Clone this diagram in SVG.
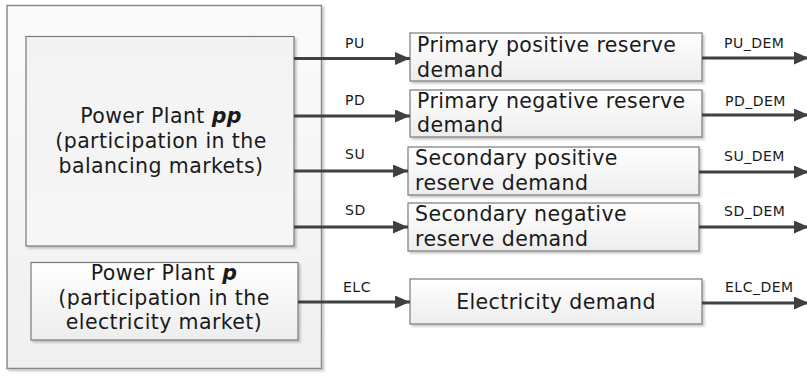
<svg xmlns="http://www.w3.org/2000/svg" width="807" height="377" viewBox="0 0 807 377">
  <defs>
    <linearGradient id="boxFill" x1="0" y1="0" x2="0" y2="1">
      <stop offset="0" stop-color="#ffffff"/>
      <stop offset="1" stop-color="#ededed"/>
    </linearGradient>
    <linearGradient id="panelFill" x1="0" y1="0" x2="0" y2="1">
      <stop offset="0" stop-color="#fbfbfb"/>
      <stop offset="1" stop-color="#f0f0f0"/>
    </linearGradient>
    <linearGradient id="ppFill" x1="0" y1="0" x2="0" y2="1">
      <stop offset="0" stop-color="#f3f3f3"/>
      <stop offset="1" stop-color="#f6f6f6"/>
    </linearGradient>
    <filter id="shadow" x="-5%" y="-5%" width="115%" height="120%">
      <feDropShadow dx="2" dy="2" stdDeviation="1" flood-color="#000000" flood-opacity="0.22"/>
    </filter>
    <marker id="arrow" viewBox="0 0 15 13" refX="15" refY="6.5" markerWidth="15" markerHeight="13" markerUnits="userSpaceOnUse" orient="auto">
      <path d="M0,0 L15,6.5 L0,13 Z" fill="#404040"/>
    </marker>
  </defs>
  <style>
    .box { fill: url(#boxFill); stroke: #7a7a7a; stroke-width: 1.2; filter: url(#shadow); }
    .panel { fill: url(#panelFill); stroke: #8a8a8a; stroke-width: 1.5; filter: url(#shadow); }
    .pp { fill: url(#ppFill); stroke: #7a7a7a; stroke-width: 1.2; filter: url(#shadow); }
    .t { font-family: "DejaVu Sans", Verdana, sans-serif; font-size: 20.5px; letter-spacing: 0.4px; fill: #1a1a1a; }
    .c { text-anchor: middle; }
    .lbl { font-family: "DejaVu Sans", Verdana, sans-serif; font-size: 14px; letter-spacing: 0.5px; fill: #1a1a1a; }
    .bi { font-weight: bold; font-style: italic; }
    .wire { stroke: #404040; stroke-width: 3; fill: none; marker-end: url(#arrow); }
  </style>

  <!-- outer plant panel -->
  <g id="plant-panel">
    <rect class="panel" x="7" y="5.5" width="314.5" height="363"/>
  </g>

  <g id="power-plant-pp">
    <rect class="pp" x="26" y="36.5" width="268" height="209.5"/>
    <text class="t c" x="161" y="123">Power Plant <tspan class="bi">pp</tspan></text>
    <text class="t c" x="161" y="148">(participation in the</text>
    <text class="t c" x="161" y="173">balancing markets)</text>
  </g>

  <g id="power-plant-p">
    <rect class="box" x="31" y="262.5" width="267" height="77.5"/>
    <text class="t c" x="164" y="280">Power Plant <tspan class="bi">p</tspan></text>
    <text class="t c" x="164" y="305">(participation in the</text>
    <text class="t c" x="164" y="329">electricity market)</text>
  </g>

  <g id="primary-positive">
    <rect class="box" x="410" y="33" width="292" height="48"/>
    <text class="t" x="417" y="52">Primary positive reserve</text>
    <text class="t" x="417" y="77">demand</text>
  </g>

  <g id="primary-negative">
    <rect class="box" x="410" y="90" width="292" height="47"/>
    <text class="t" x="417" y="108">Primary negative reserve</text>
    <text class="t" x="417" y="132">demand</text>
  </g>

  <g id="secondary-positive">
    <rect class="box" x="408" y="147" width="291" height="48"/>
    <text class="t" x="415" y="165">Secondary positive</text>
    <text class="t" x="415" y="190">reserve demand</text>
  </g>

  <g id="secondary-negative">
    <rect class="box" x="408" y="203" width="291" height="48"/>
    <text class="t" x="415" y="221">Secondary negative</text>
    <text class="t" x="415" y="246">reserve demand</text>
  </g>

  <g id="electricity-demand">
    <rect class="box" x="410" y="279" width="292" height="45"/>
    <text class="t c" x="556" y="309">Electricity demand</text>
  </g>

  <!-- flows -->
  <g id="connectors">
    <line class="wire" x1="294" y1="58.5" x2="410" y2="58.5"/>
    <line class="wire" x1="294" y1="116" x2="410" y2="116"/>
    <line class="wire" x1="294" y1="171" x2="408" y2="171"/>
    <line class="wire" x1="294" y1="227" x2="408" y2="227"/>
    <line class="wire" x1="298" y1="302" x2="410" y2="302"/>

    <line class="wire" x1="702" y1="58" x2="809" y2="58"/>
    <line class="wire" x1="702" y1="115" x2="809" y2="115"/>
    <line class="wire" x1="699" y1="172" x2="809" y2="172"/>
    <line class="wire" x1="699" y1="227" x2="809" y2="227"/>
    <line class="wire" x1="702" y1="303" x2="809" y2="303"/>

    <text class="lbl" x="345" y="48">PU</text>
    <text class="lbl" x="345" y="105">PD</text>
    <text class="lbl" x="345" y="159">SU</text>
    <text class="lbl" x="345" y="215">SD</text>
    <text class="lbl" x="343" y="292">ELC</text>

    <text class="lbl" x="724" y="48">PU_DEM</text>
    <text class="lbl" x="725" y="106">PD_DEM</text>
    <text class="lbl" x="724" y="161">SU_DEM</text>
    <text class="lbl" x="724" y="216">SD_DEM</text>
    <text class="lbl" x="725" y="292">ELC_DEM</text>
  </g>
</svg>
